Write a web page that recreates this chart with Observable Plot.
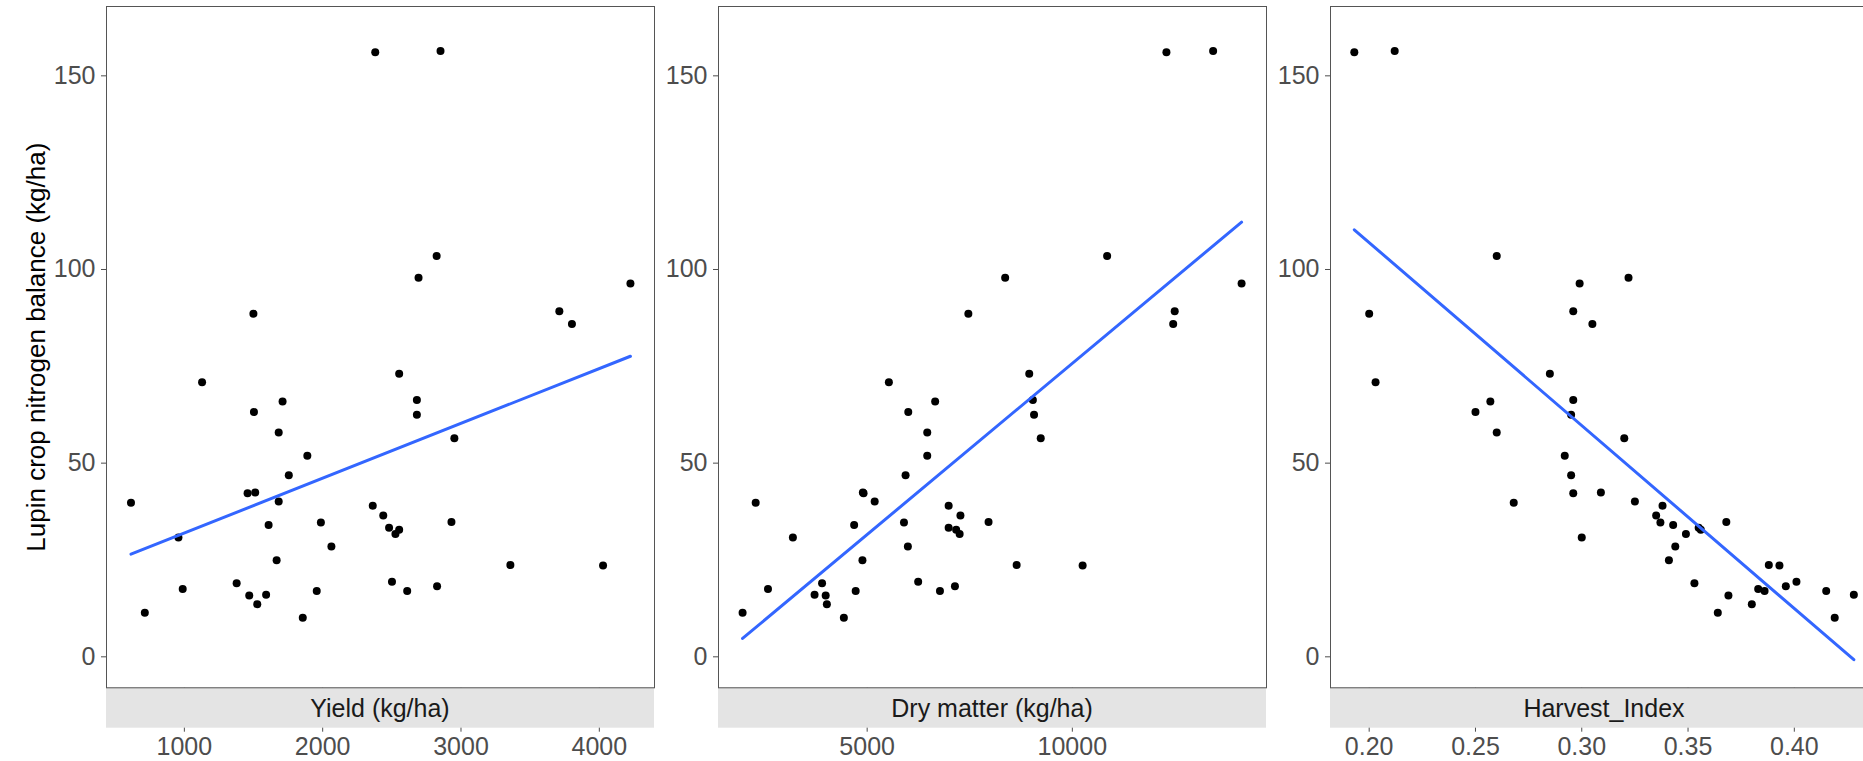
<!DOCTYPE html>
<html>
<head>
<meta charset="utf-8">
<script src="https://cdn.jsdelivr.net/npm/d3@7"></script>
<script src="https://cdn.jsdelivr.net/npm/@observablehq/plot@0.6"></script>
<style>
  html, body { margin: 0; padding: 0; background: #fff; overflow: hidden; }
  #chart { position: relative; width: 1863px; height: 761px; overflow: hidden; background: #fff; }
  #chart > svg { position: absolute; top: 0; }
</style>
</head>
<body>
<div id="chart"></div>
<script>
// N balance (kg/ha), one value per site-year
const nBalance = [156.1, 156.4, 103.5, 97.9, 88.6, 89.2, 85.9, 96.4, 73.1, 70.9,
  65.9, 66.3, 63.2, 62.5, 57.9, 56.4, 51.9, 46.9, 42.2, 42.4,
  39.8, 40.1, 39.0, 36.5, 34.7, 34.8, 34.0, 33.3, 32.8, 31.7,
  30.8, 28.5, 24.9, 23.7, 23.6, 19.4, 19.0, 17.5, 17.0, 17.0,
  18.2, 15.8, 16.0, 13.6, 11.4, 10.1];
// Grain yield (kg/ha)
const yieldKg = [2380, 2852, 2824, 2693, 1499, 3711, 3802, 4225, 2553, 1128,
  1710, 2681, 1503, 2681, 1682, 2952, 1889, 1755, 1457, 1512,
  614, 1682, 2362, 2438, 1987, 2931, 1609, 2480, 2553, 2526,
  957, 2063, 1667, 3357, 4027, 2501, 1378, 988, 2611, 1957,
  2827, 1469, 1591, 1527, 714, 1856];
// Dry matter (kg/ha)
const dryMatter = [12293, 13431, 10848, 8363, 7466, 12495, 12458, 14125, 8950, 5529,
  6657, 9038, 6002, 9067, 6464, 9230, 6464, 5936, 4912, 4895,
  2283, 5183, 6986, 7273, 5897, 7958, 4683, 6986, 7169, 7254,
  3190, 5992, 4885, 8643, 10251, 6243, 3901, 2583, 6774, 4720,
  7139, 3989, 3718, 4018, 1964, 4432];
// Harvest index
const harvestIndex = [0.193, 0.212, 0.260, 0.322, 0.200, 0.296, 0.305, 0.299, 0.285, 0.203,
  0.257, 0.296, 0.250, 0.295, 0.260, 0.320, 0.292, 0.295, 0.296, 0.309,
  0.268, 0.325, 0.338, 0.335, 0.337, 0.368, 0.343, 0.355, 0.356, 0.349,
  0.300, 0.344, 0.341, 0.388, 0.393, 0.401, 0.353, 0.383, 0.386, 0.415,
  0.396, 0.369, 0.428, 0.380, 0.364, 0.419];

const facetLabels = ["Yield (kg/ha)", "Dry matter (kg/ha)", "Harvest_Index"];
const xTicks = [[1000, 2000, 3000, 4000], [5000, 10000], [0.20, 0.25, 0.30, 0.35, 0.40]];
const yTicks = [0, 50, 100, 150];
const yTitle = "Lupin crop nitrogen balance (kg/ha)";

const rows = nBalance.map((n, i) => ({
  n, yield: yieldKg[i], dm: dryMatter[i], hi: harvestIndex[i]
}));

const FONT = "'Liberation Sans', Arial, Helvetica, sans-serif";
const STRIP_H = 40.4;
const PANEL_W = 548;

function strip(label) {
  return (index, scales, values, dim) => {
    const g = d3.create("svg:g");
    const x0 = dim.marginLeft, y0 = dim.height - dim.marginBottom;
    const w = dim.width - dim.marginLeft - dim.marginRight;
    g.append("rect").attr("x", x0).attr("y", y0).attr("width", w).attr("height", STRIP_H)
      .attr("fill", "#E4E4E4");
    g.append("text").attr("x", x0 + w / 2).attr("y", y0 + STRIP_H / 2)
      .attr("text-anchor", "middle").attr("dominant-baseline", "central")
      .attr("fill", "#1A1A1A").attr("font-size", 25).attr("font-family", FONT)
      .text(label);
    return g.node();
  };
}

const panels = [
  {key: "yield", domain: [437, 4399], fmt: d3.format("d"), left: 0, ml: 106},
  {key: "dm", domain: [1377, 14732], fmt: d3.format("d"), left: 655, ml: 63},
  {key: "hi", domain: [0.1818, 0.4396], fmt: d3.format(".2f"), left: 1267, ml: 63}
];

const chart = document.getElementById("chart");
panels.forEach((p, i) => {
  const marks = [
    Plot.dot(rows, {x: p.key, y: "n", r: 4, fill: "black", stroke: "none"}),
    Plot.linearRegressionY(rows, {x: p.key, y: "n", ci: 0, stroke: "#3366FF", strokeWidth: 3}),
    Plot.axisY({ticks: yTicks, tickSize: 5, tickPadding: 6, label: null, fontSize: 25}),
    Plot.axisX({ticks: xTicks[i], tickSize: 44.4, tickPadding: 5, label: null,
      tickFormat: p.fmt, fontSize: 25}),
    strip(facetLabels[i]),
    Plot.frame({stroke: "#555", strokeWidth: 1})
  ];
  if (i === 0) {
    marks.push(Plot.text([yTitle], {frameAnchor: "left", textAnchor: "middle",
      lineAnchor: "middle", dx: -70, rotate: -90, fontSize: 26, fill: "black"}));
  }
  const svg = Plot.plot({
    width: p.ml + PANEL_W + 1,
    height: 761,
    marginLeft: p.ml,
    marginRight: 1,
    marginTop: 6,
    marginBottom: 73.7,
    style: {fontFamily: FONT, fontSize: "25px", color: "#4D4D4D", background: "transparent"},
    x: {domain: p.domain},
    y: {domain: [-8, 167.9]},
    marks
  });
  svg.style.left = p.left + "px";
  chart.appendChild(svg);
});
</script>
</body>
</html>
